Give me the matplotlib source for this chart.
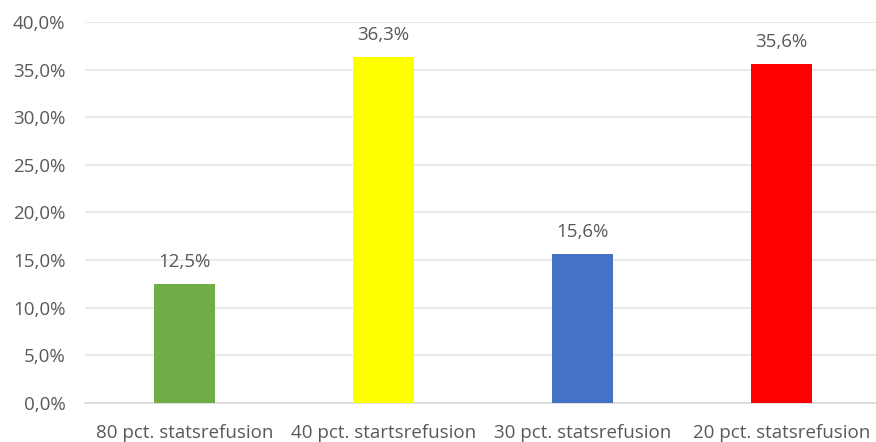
import matplotlib
matplotlib.use("Agg")
import matplotlib.pyplot as plt
from matplotlib.ticker import FuncFormatter, MultipleLocator

categories = ["80 pct. statsrefusion", "40 pct. startsrefusion",
              "30 pct. statsrefusion", "20 pct. statsrefusion"]
values = [12.5, 36.3, 15.6, 35.6]
colors = ["#70AD47", "#FFFF00", "#4472C4", "#FF0000"]

plt.rcParams['font.family'] = ['Open Sans', 'DejaVu Sans']
text_color = "#595959"

fig = plt.figure(figsize=(8.76, 4.42), dpi=100)
ax = fig.add_axes([85/876, 39/442, 796/876, 381/442])

x = list(range(len(categories)))
ax.bar(x, values, width=0.31, color=colors, zorder=3)
ax.set_xlim(-0.5, len(categories) - 0.5)
ax.set_ylim(0, 40)
ax.yaxis.set_major_locator(MultipleLocator(5))
ax.yaxis.set_major_formatter(FuncFormatter(lambda v, p: f"{v:.1f}".replace(".", ",") + "%"))
ax.grid(axis="y", color="#E5E5E5", linewidth=1.2, zorder=0)
for s in ["top", "right", "left"]:
    ax.spines[s].set_visible(False)
ax.spines["bottom"].set_color("#D9D9D9")
ax.spines["bottom"].set_linewidth(1.2)
ax.set_xticks(x)
ax.set_xticklabels(categories)
ax.tick_params(axis="both", length=0, colors=text_color, labelsize=13.5)
ax.tick_params(axis="y", pad=14)
ax.tick_params(axis="x", pad=15)

for xi, v in zip(x, values):
    ax.annotate(f"{v:.1f}".replace(".", ",") + "%", (xi, v), xytext=(0, 9.5),
                textcoords="offset points", ha="center", va="bottom",
                color=text_color, fontsize=13.5)

fig.savefig("out.png", dpi=100)
